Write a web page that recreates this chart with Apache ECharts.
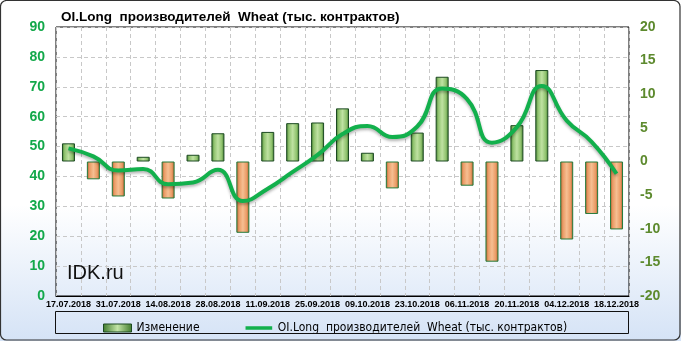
<!DOCTYPE html>
<html>
<head>
<meta charset="utf-8">
<script src="https://cdn.jsdelivr.net/npm/echarts@6/dist/echarts.min.js"></script>
<style>
html,body{margin:0;padding:0;background:#fff;}
#chart{width:681px;height:341px;}
</style>
</head>
<body>
<div id="chart"></div>
<script>
var categories = ['17.07.2018','24.07.2018','31.07.2018','07.08.2018','14.08.2018','21.08.2018','28.08.2018','04.09.2018','11.09.2018','18.09.2018','25.09.2018','02.10.2018','09.10.2018','16.10.2018','23.10.2018','30.10.2018','06.11.2018','13.11.2018','20.11.2018','27.11.2018','04.12.2018','11.12.2018','18.12.2018'];
var changeValues = [2.7,-2.65,-5.2,0.7,-5.5,1.0,4.2,-10.6,4.4,5.7,5.8,7.9,1.3,-4.0,4.3,12.6,-3.6,-14.9,5.4,13.6,-11.6,-7.8,-10.1];
var oiLongValues = [49.4,46.7,42.0,42.5,37.4,38.0,42.2,31.8,35.9,41.5,47.2,54.2,56.9,53.2,56.7,69.4,65.9,51.3,56.5,70.3,58.7,51.6,40.9];
var titleText = 'OI.Long  производителей  Wheat (тыс. контрактов)';
var barName = 'Изменение';
var lineName = 'OI.Long  производителей  Wheat (тыс. контрактов)';

function hgrad(stops){
  return new echarts.graphic.LinearGradient(0,0,1,0, stops.map(function(s){return {offset:s[0], color:s[1]};}));
}
var greenStyle = {
  color: hgrad([[0,'#3f7a2c'],[0.2,'#8fc26e'],[0.5,'#bfe2a2'],[0.8,'#8fc26e'],[1,'#3f7a2c']]),
  borderColor:'#1c4a22', borderWidth:1
};
var orangeStyle = {
  color: hgrad([[0,'#a85a2c'],[0.2,'#ea9a64'],[0.5,'#f6bf92'],[0.8,'#ea9a64'],[1,'#a85a2c']]),
  borderColor:'#237a3a', borderWidth:1
};
var lineIcon = 'path://M0,0 L0.01,0 L0.01,0.01 Z M0,2.5 L30,2.5 L30,6.5 L0,6.5 Z M0,9 L0.01,9 L0.01,8.99 Z';

var chart = echarts.init(document.getElementById('chart'), null, {renderer:'canvas'});
chart.setOption({
  animation:false,
  backgroundColor: new echarts.graphic.LinearGradient(0,0,0,1,[
    {offset:0,color:'#ffffff'},{offset:0.6,color:'#ffffff'},{offset:1,color:'#d5e3f6'}]),
  title:{
    text:titleText, left:56, top:5,
    textStyle:{fontFamily:'Liberation Sans', fontWeight:'bold', fontSize:13.5, color:'#000'}
  },
  grid:{left:56, right:52, top:27, bottom:45, show:true, borderColor:'#000', borderWidth:1, backgroundColor:'transparent'},
  legend:{
    left:98, top:317, itemWidth:28, itemHeight:8, itemGap:46,
    textStyle:{fontFamily:'DejaVu Sans Condensed', fontSize:12, color:'#000'},
    data:[
      {name:barName, icon:'rect', itemStyle:{color:hgrad([[0,'#3f7a2c'],[0.5,'#c2e4a6'],[1,'#3f7a2c']]), borderColor:'#1c4a22', borderWidth:1}},
      {name:lineName, icon:lineIcon, itemStyle:{color:'#12b04c', borderWidth:0}}
    ]
  },
  xAxis:{
    type:'category', data:categories, boundaryGap:true,
    axisLine:{show:true, lineStyle:{color:'#000'}},
    axisTick:{show:false},
    axisLabel:{interval:1, margin:4, fontFamily:'Liberation Sans', fontWeight:'bold', fontSize:9, color:'#000'},
    splitLine:{show:true, interval:0, lineStyle:{color:'#c8c8c8', type:[4,3]}}
  },
  yAxis:[
    {type:'value', min:0, max:90, interval:10, position:'left',
     axisLine:{show:false}, axisTick:{show:false},
     axisLabel:{margin:11, fontFamily:'Liberation Sans', fontWeight:'bold', fontSize:14, color:'#12a84a'},
     splitLine:{show:true, lineStyle:{color:'#c8c8c8', type:[4,3]}}},
    {type:'value', min:-20, max:20, interval:5, position:'right',
     axisLine:{show:false}, axisTick:{show:false},
     axisLabel:{margin:11, fontFamily:'Liberation Sans', fontWeight:'bold', fontSize:14, color:'#5d8a2e'},
     splitLine:{show:false}}
  ],
  graphic:[
    {type:'rect', shape:{x:0.5,y:0.5,width:679.5,height:339.5,r:6}, style:{fill:'none', stroke:'#333', lineWidth:1.2}, z:100, silent:true},
    {type:'rect', shape:{x:55.5,y:311.5,width:573,height:22}, style:{fill:'none', stroke:'#111', lineWidth:1}, z:100, silent:true},
    {type:'text', left:67, top:263, style:{text:'IDK.ru', font:'20px "Liberation Sans", Arial, sans-serif', fill:'#111'}, z:50, silent:true}
  ],
  series:[
    {name:barName, type:'bar', yAxisIndex:1, barWidth:13,
     data:changeValues.map(function(v){return {value:v, itemStyle: v>=0 ? greenStyle : orangeStyle};}),
     z:2},
    {name:lineName, type:'line', yAxisIndex:0, data:oiLongValues, smooth:0.5, showSymbol:false, symbol:'none',
     lineStyle:{color:'#12b04c', width:4, shadowColor:'rgba(0,0,0,0.3)', shadowBlur:3, shadowOffsetY:2},
     itemStyle:{color:'#12b04c'}, z:3}
  ]
});
</script>
</body>
</html>
